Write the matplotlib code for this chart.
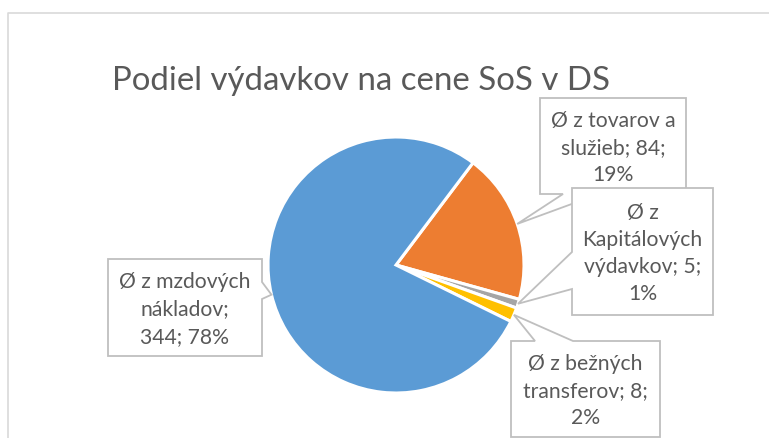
import matplotlib
matplotlib.use("Agg")
import matplotlib.pyplot as plt
import numpy as np
from matplotlib.patches import Polygon

# -------------------------------
# DATA
# -------------------------------
names = ["Ø z tovarov a\nslužieb", "Ø z\nKapitálových\nvýdavkov", "Ø z bežných\ntransferov", "Ø z mzdových\nnákladov"]
values = [84, 5, 8, 344]
colors = ["#ED7D31", "#A5A5A5", "#FFC000", "#5B9BD5"]
title = "Podiel výdavkov na cene SoS v DS"

total = sum(values)
pcts = [round(v / total * 100) for v in values]
# Excel wraps the text differently for each label
seps1 = ["; ", "; ", "; ", ";\n"]
seps2 = [";\n", ";\n", ";\n", "; "]
labels = [f"{n}{a}{v}{b}{p}%" for n, a, v, b, p in zip(names, seps1, values, seps2, pcts)]

# -------------------------------
# FIGURE (axes in pixel units, y measured from bottom)
# -------------------------------
W, H = 769, 439
fig = plt.figure(figsize=(W / 100, H / 100), dpi=100)
ax = fig.add_axes([0, 0, 1, 1])

cx, cy, r = 396, H - 266, 128
wedges, _ = ax.pie(values, colors=colors, startangle=53, counterclock=False,
                   center=(cx, cy), radius=r,
                   wedgeprops=dict(edgecolor="white", linewidth=2.2))
ax.set_xlim(0, W)
ax.set_ylim(0, H)
ax.set_aspect("equal")
ax.axis("off")

# chart border (chart continues past the right/bottom edge)
ax.plot([8, 8, W + 5], [-5, H - 14, H - 14], color="#D9D9D9", lw=1.2, clip_on=False)

ax.text(361, H - 81, title, ha="center", va="center", fontsize=23.8,
        color="#595959", family="Lato")

# -------------------------------
# CALLOUT LABELS
# -------------------------------
# box: x0, y0, x1, y1 (pixels from top), side of pointer, pointer base
boxes = [
    (540, 99, 686, 195, "bottom", 563, 599),
    (572, 189, 713, 316, "left", 253, 290),
    (511, 342, 660, 438, "top", 535, 573),
    (108, 260, 262, 357, "right", 283, 300),
]


def tip_of(w):
    a = np.deg2rad((w.theta1 + w.theta2) / 2)
    return (w.center[0] + w.r * np.cos(a), w.center[1] + w.r * np.sin(a))


for w, lab, (x0, y0, x1, y1, side, b0, b1) in zip(wedges, labels, boxes):
    Y0, Y1 = H - y0, H - y1
    t = tip_of(w)
    if side == "top":
        pts = [(x0, Y0), (b0, Y0), t, (b1, Y0), (x1, Y0), (x1, Y1), (x0, Y1)]
    elif side == "right":
        pts = [(x0, Y0), (x1, Y0), (x1, H - b0), t, (x1, H - b1), (x1, Y1), (x0, Y1)]
    elif side == "bottom":
        pts = [(x0, Y0), (x1, Y0), (x1, Y1), (b1, Y1), t, (b0, Y1), (x0, Y1)]
    else:
        pts = [(x0, Y0), (x1, Y0), (x1, Y1), (x0, Y1), (x0, H - b1), t, (x0, H - b0)]
    ax.add_patch(Polygon(pts, closed=True, facecolor="white", edgecolor="#BFBFBF",
                         lw=1.3, zorder=3))
    ax.text((x0 + x1) / 2, (Y0 + Y1) / 2 - 1, lab, ha="center", va="center",
            fontsize=15.2, color="#595959", family="Lato", linespacing=1.45,
            zorder=4)

plt.savefig("out.png", dpi=100)
